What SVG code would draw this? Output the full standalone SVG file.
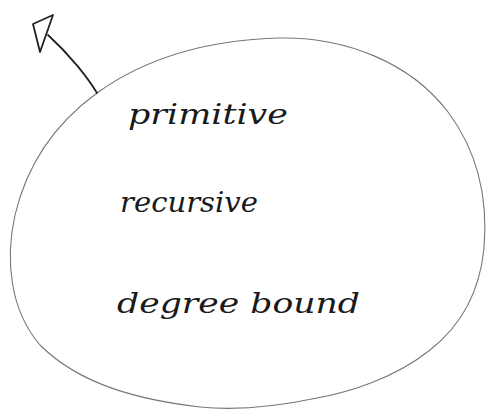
<svg xmlns="http://www.w3.org/2000/svg" width="496" height="417" viewBox="0 0 496 417">
<style>
.outline{fill:none;stroke:#777;stroke-width:1.1;stroke-linecap:round}
.conn{fill:none;stroke:#222;stroke-width:1.8;stroke-linecap:round;stroke-linejoin:round}
.hand{font-family:"DejaVu Serif","Liberation Serif",serif;font-style:italic;font-size:28px;fill:#1a1a1a}
</style>
<rect width="496" height="417" fill="#fff"/>
<g id="blob">
<path class="outline" d="M97,93 C140,62 200,40 280,38 C345,37 410,62 448,112 C478,152 488,200 484,248 C480,290 462,325 430,350 C395,378 350,392 317,398 C270,408 230,410 200,407 C140,400 80,385 40,345 C10,310 5,260 15,215 C28,160 60,120 97,93 Z"/>
<text class="hand" x="128" y="124" textLength="160" lengthAdjust="spacingAndGlyphs">primitive</text>
<text class="hand" x="120" y="212" textLength="138" lengthAdjust="spacingAndGlyphs">recursive</text>
<text class="hand" x="117" y="313" textLength="243" lengthAdjust="spacingAndGlyphs">degree bound</text>
</g>
<g id="connectors">
<path class="conn" d="M97,93 C88,78 70,55 48,35"/>
<polygon class="conn" points="33,24 53,15 40,52"/>
</g>
</svg>
